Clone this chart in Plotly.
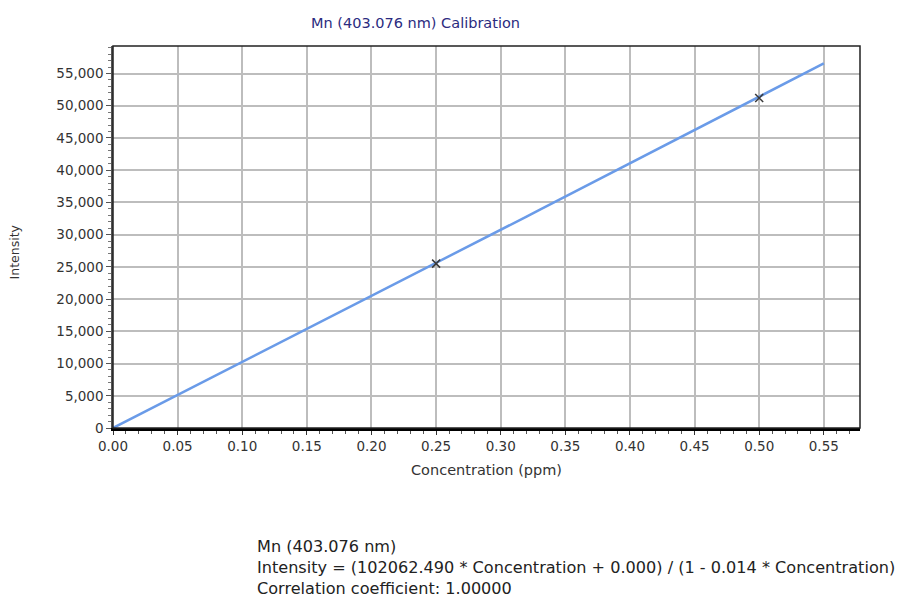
import numpy as np
import plotly.graph_objects as go

# Calibration standards (concentration in ppm, measured intensity)
std_conc = [0.25, 0.50]
std_intensity = [25500, 51200]

# Fitted calibration: Intensity = (a * C + b) / (1 - k * C)
fit_a = 102062.490
fit_b = 0.000
fit_k = 0.014
curve_conc = np.linspace(0.0, 0.55, 56)
curve_intensity = (fit_a * curve_conc + fit_b) / (1 - fit_k * curve_conc)

x_ticks = [0.00, 0.05, 0.10, 0.15, 0.20, 0.25, 0.30, 0.35, 0.40, 0.45, 0.50, 0.55]
y_ticks = list(range(0, 55001, 5000))

title_text = "Mn (403.076 nm) Calibration"
x_title = "Concentration (ppm)"
y_title = "Intensity"
info_lines = [
    "Mn (403.076 nm)",
    "Intensity = (102062.490 * Concentration + 0.000) / (1 - 0.014 * Concentration)",
    "Correlation coefficient: 1.00000",
]

FONT = "DejaVu Sans, Open Sans, sans-serif"

fig = go.Figure()
fig.add_trace(go.Scatter(
    x=curve_conc, y=curve_intensity, mode="lines",
    line=dict(color="#6A9BE8", width=2.5), hoverinfo="skip", showlegend=False,
))
fig.add_trace(go.Scatter(
    x=std_conc, y=std_intensity, mode="markers",
    marker=dict(symbol="x-thin", size=8, line=dict(color="#3A3A3A", width=1.5)),
    showlegend=False,
))

tick_font = dict(family=FONT, size=13.5, color="#333333")

fig.update_xaxes(
    range=[0, 0.578], tickvals=x_ticks, ticktext=[f"{v:.2f}" for v in x_ticks],
    showgrid=True, gridcolor="#BDBDBD", gridwidth=2, zeroline=False,
    showline=True, linecolor="#000000", linewidth=3,
    ticks="outside", ticklen=4, tickcolor="#333333", tickwidth=1,
    minor=dict(dtick=0.01, tick0=0, ticks="outside", ticklen=3, tickcolor="#555555", showgrid=False),
    tickfont=tick_font,
    title=dict(text=x_title, font=dict(family=FONT, size=14.5, color="#333333"), standoff=12),
)
fig.update_yaxes(
    range=[0, 59270], tickvals=y_ticks, ticktext=[f"{v:,}" for v in y_ticks],
    showgrid=True, gridcolor="#BDBDBD", gridwidth=2, zeroline=False,
    showline=True, linecolor="#555555", linewidth=1.5,
    ticks="outside", ticklen=5, tickcolor="#555555", tickwidth=1,
    minor=dict(dtick=1000, tick0=0, ticks="outside", ticklen=3, tickcolor="#777777", showgrid=False),
    tickfont=tick_font,
)

# frame around the plot area (top and right edges)
fig.add_shape(type="rect", xref="paper", yref="paper", x0=0, y0=0, x1=1, y1=1,
              line=dict(color="#222222", width=1.5), layer="above")

fig.add_annotation(
    text=title_text, xref="paper", yref="paper", x=0.405, y=1.0, yshift=33,
    showarrow=False, font=dict(family=FONT, size=14.5, color="#2B2B80"),
)
fig.add_annotation(
    text=y_title, xref="paper", yref="paper", x=-0.145, y=0.46, textangle=-90,
    showarrow=False, font=dict(family=FONT, size=12.5, color="#333333"),
)
fig.add_annotation(
    text="<br>".join(info_lines), xref="paper", yref="paper", x=0.19, y=-0.28,
    xanchor="left", yanchor="top", align="left", showarrow=False,
    font=dict(family=FONT, size=16.1, color="#222222"),
)

fig.update_layout(
    width=902, height=598,
    margin=dict(l=113, r=42, t=46, b=170),
    plot_bgcolor="#FFFFFF", paper_bgcolor="#FFFFFF",
)

fig.write_html("out.html")
